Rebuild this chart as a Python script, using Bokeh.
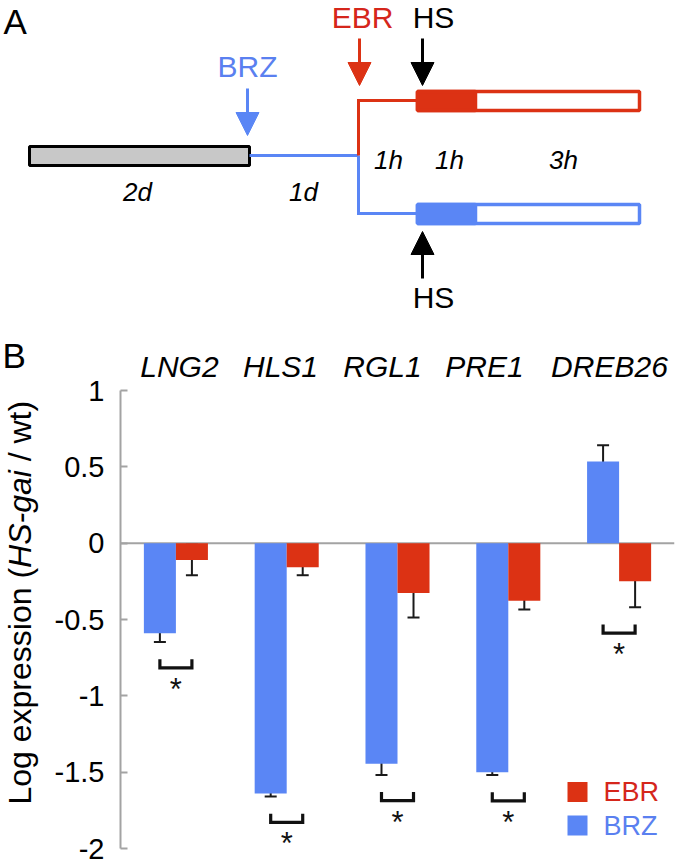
import math
import numpy as np
from bokeh.plotting import figure
from bokeh.models import (Range1d, Label, Arrow, NormalHead, Span, Whisker, TeeHead,
                          ColumnDataSource, FixedTicker, LinearAxis)
from bokeh.layouts import column, row
from bokeh.embed import file_html
from bokeh.resources import INLINE
from bokeh.core.properties import value

# ---------------- data ----------------
genes = ["LNG2", "HLS1", "RGL1", "PRE1", "DREB26"]
brz_mean = [-0.59, -1.64, -1.445, -1.50, 0.535]
brz_err = [0.058, 0.02, 0.073, 0.019, 0.107]
ebr_mean = [-0.11, -0.157, -0.327, -0.377, -0.25]
ebr_err = [0.10, 0.053, 0.16, 0.058, 0.17]
significant = ["*", "*", "*", "*", "*"]
treatments = ["EBR", "BRZ"]
y_ticks = [1, 0.5, 0, -0.5, -1, -1.5, -2]
y_tick_labels = ["1", "0.5", "0", "-0.5", "-1", "-1.5", "-2"]
stage_labels = ["2d", "1d", "1h", "1h", "3h"]

# ---------------- style / layout ----------------
BLUE = "#5A86F5"
RED = "#DC3214"
BLUE_TXT = "#5A80F0"
RED_TXT = "#D5261B"
GRAY = "#A3A3A3"
FONT = "Liberation Sans"
W, H = 677, 865
TOP_B = 335       # page y where the chart row starts
FRAME_TOP = 390   # page y of value 1
FRAME_BOT = 848   # page y of value -2
YL_W = 50         # width of the y-title strip
AXIS_X = 120      # page x of the y axis
XEND = 5.0
FRAME_RIGHT = 674


def lab(fig, x, y, text, size, color="black", style="normal", align="center",
        baseline="middle", angle=0):
    fig.add_layout(Label(x=x, y=y, text=text, text_font=FONT, text_font_size=size,
                         text_color=color, text_font_style=style, text_align=align,
                         text_baseline=baseline, angle=angle))


def blank(width, height, xr, yr):
    f = figure(width=width, height=height, x_range=Range1d(*xr), y_range=Range1d(*yr),
               output_backend="svg", toolbar_location=None, min_border=0,
               x_axis_location=None, y_axis_location=None)
    f.grid.visible = False
    f.outline_line_color = None
    f.frame_align = False
    return f


# ================= Panel A (schematic, page-pixel coords) =================
pa = blank(W, TOP_B, (0, W), (TOP_B, 0))

lab(pa, 3, 21, "A", "35px", align="left")

pa.quad(left=29, right=249, top=146, bottom=165, fill_color="#C8C8C8",
        line_color="black", line_width=3)
pa.line([249, 358], [155, 155], line_color=BLUE, line_width=3)
pa.line([358, 358, 417], [155, 213, 213], line_color=BLUE, line_width=3, line_join="miter")
pa.line([358, 358, 417], [155, 100, 100], line_color=RED, line_width=3, line_join="miter")

for yt, yb, c in [(91, 110, RED), (204, 223, BLUE)]:
    pa.quad(left=417, right=639, top=yt, bottom=yb, fill_color="white",
            line_color=c, line_width=3.5)
    pa.quad(left=417, right=475, top=yt, bottom=yb, fill_color=c,
            line_color=c, line_width=3.5)


def arrow(x, y0, y1, c):
    pa.add_layout(Arrow(x_start=x, y_start=y0, x_end=x, y_end=y1, line_color=c,
                        line_width=3,
                        end=NormalHead(size=23, fill_color=c, line_color=c, line_width=1)))


arrow(247, 88, 135, BLUE)
arrow(359, 38, 85, RED)
arrow(422, 38, 85, "black")
arrow(422, 278, 231, "black")

lab(pa, 247, 66, treatments[1], "30px", BLUE_TXT)
lab(pa, 362, 17, treatments[0], "30px", RED_TXT)
lab(pa, 433, 17, "HS", "30px")
lab(pa, 433, 297, "HS", "30px")

stage_pos = [(137, 191), (303, 191), (388, 159), (449, 159), (563, 159)]
for (sx, sy), t in zip(stage_pos, stage_labels):
    lab(pa, sx, sy, t, "26px", style="italic")

# ================= y-title strip (with panel letter B) =================
HB = H - TOP_B
py = blank(YL_W, HB, (0, YL_W), (H, TOP_B))
lab(py, 2, 355, "B", "35px", align="left")
fs = 32
y0 = 804
pieces = [("Log expression (", "normal", 7.392), ("HS-gai", "italic", 3.056),
          ("\u00a0/ wt)", "normal", 2.167)]
for txt, st, em_w in pieces:
    lab(py, 19, y0, txt, f"{fs}px", style=st, align="left", angle=math.pi / 2)
    y0 -= em_w * fs

# ================= Panel B (bar chart) =================
WB = W - YL_W
FX_LEFT = AXIS_X - YL_W
PXU = (FRAME_RIGHT - AXIS_X) / XEND

pb = figure(width=WB, height=HB, x_range=Range1d(0, XEND), y_range=Range1d(-2, 1),
            output_backend="svg", toolbar_location=None,
            min_border_left=FX_LEFT, min_border_right=W - FRAME_RIGHT,
            min_border_top=FRAME_TOP - TOP_B, min_border_bottom=H - FRAME_BOT,
            x_axis_location=None)
pb.grid.visible = False
pb.outline_line_color = None
pb.frame_align = False

yax = pb.yaxis[0]
yax.ticker = FixedTicker(ticks=y_ticks)
yax.major_label_overrides = {t: l for t, l in zip(y_ticks, y_tick_labels)}
yax.axis_line_color = GRAY
yax.axis_line_width = 2
yax.major_tick_line_color = GRAY
yax.major_tick_line_width = 2
yax.major_tick_in = 7
yax.major_tick_out = 0
yax.minor_tick_line_color = None
yax.major_label_text_font = FONT
yax.major_label_text_font_size = "29px"
yax.major_label_text_color = "black"
yax.major_label_standoff = 16

# gene names as an axis above the chart
gene_label_px = [179, 280, 382, 484, 609]
gene_ticks = [round((gx - AXIS_X) / PXU, 3) for gx in gene_label_px]
top_ax = LinearAxis(ticker=FixedTicker(ticks=gene_ticks),
                    major_label_overrides={t: g for t, g in zip(gene_ticks, genes)},
                    axis_line_color=None, major_tick_line_color=None,
                    minor_tick_line_color=None, major_tick_out=0, major_tick_in=0,
                    major_label_text_font=FONT, major_label_text_font_size="30px",
                    major_label_text_font_style="italic", major_label_text_color="black",
                    major_label_standoff=8)
pb.add_layout(top_ax, "above")

pb.add_layout(Span(location=0, dimension="width", line_color=GRAY, line_width=2,
                   level="underlay"))

centers = np.arange(len(genes)) + 0.5
half = 0.1445
bw = 0.289
brz_x = centers - half
ebr_x = centers + half

pb.vbar(x=brz_x, top=brz_mean, bottom=0, width=bw, fill_color=BLUE, line_color=None)
pb.vbar(x=ebr_x, top=ebr_mean, bottom=0, width=bw, fill_color=RED, line_color=None)

bm = np.array(brz_mean); be = np.array(brz_err)
em = np.array(ebr_mean); ee = np.array(ebr_err)
err_src = ColumnDataSource(dict(
    base=np.concatenate([brz_x, ebr_x]),
    upper=np.concatenate([bm + be, em + ee]),
    lower=np.concatenate([bm - be, em - ee]),
))
pb.add_layout(Whisker(source=err_src, base="base", upper="upper", lower="lower",
                      dimension="height", line_color="#1A1A1A", line_width=2,
                      upper_head=TeeHead(size=12, line_color="#1A1A1A", line_width=2),
                      lower_head=TeeHead(size=12, line_color="#1A1A1A", line_width=2)))

low = np.minimum(bm - be, em - ee)
br_top = low - 0.112
br_bot = br_top - 0.057
xs, ys = [], []
for i in range(len(genes)):
    xs.append([brz_x[i], brz_x[i], ebr_x[i], ebr_x[i]])
    ys.append([br_top[i], br_bot[i], br_bot[i], br_top[i]])
pb.multi_line(xs, ys, line_color="#111111", line_width=3.2, line_join="miter")
pb.text(x=centers, y=br_bot - 0.14, text=significant, text_align="center",
        text_baseline="middle", text_font=value(FONT), text_font_size="31px",
        text_color="#111111")

# legend (swatches + coloured names)
leg_x_sq = (577 - AXIS_X) / PXU
leg_x_tx = (603 - AXIS_X) / PXU
leg_y = [-1.63, -1.85]
pb.scatter(x=[leg_x_sq, leg_x_sq], y=leg_y, marker="square", size=20,
           fill_color=[RED, BLUE], line_color=None)
lab(pb, leg_x_tx, leg_y[0], treatments[0], "27px", RED_TXT, align="left")
lab(pb, leg_x_tx, leg_y[1], treatments[1], "27px", BLUE_TXT, align="left")

layout = column(pa, row(py, pb))
open("out.html", "w").write(file_html(layout, INLINE))
